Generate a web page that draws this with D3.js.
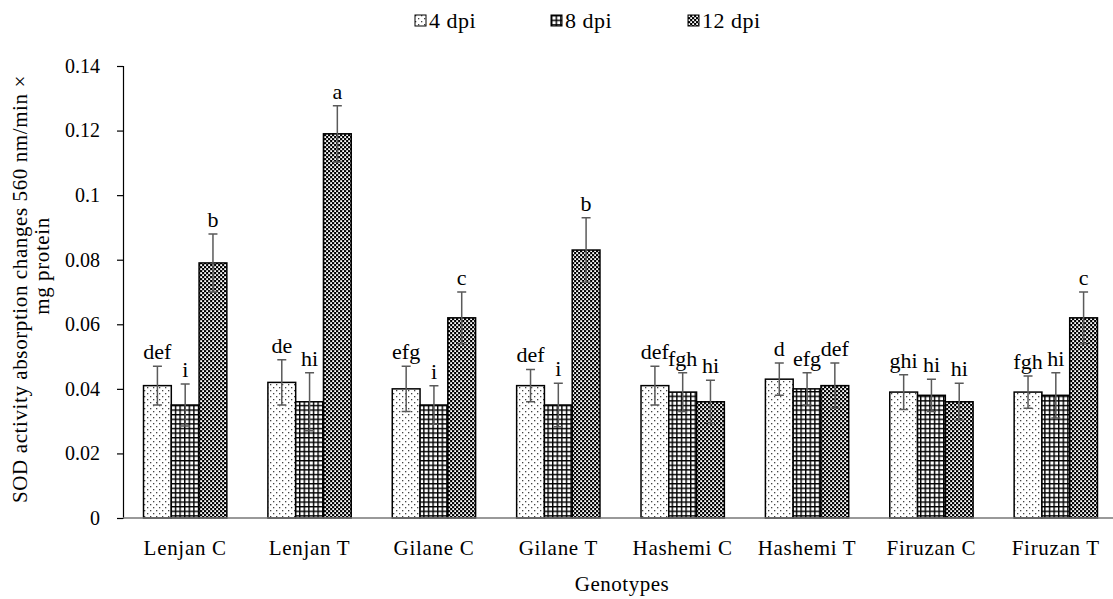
<!DOCTYPE html>
<html>
<head>
<meta charset="utf-8">
<script src="https://cdn.jsdelivr.net/npm/d3@7"></script>
<style>
  html, body { margin: 0; padding: 0; background: #fff; }
  svg { display: block; }
  text { font-family: "Liberation Serif", "Times New Roman", serif; fill: #000; }
</style>
</head>
<body>
<div id="chart"></div>
<script>
const categories = ["Lenjan C", "Lenjan T", "Gilane C", "Gilane T", "Hashemi C", "Hashemi T", "Firuzan C", "Firuzan T"];
const seriesNames = ["4 dpi", "8 dpi", "12 dpi"];
const values4  = [0.041, 0.042, 0.040, 0.041, 0.041, 0.043, 0.039, 0.039];
const values8  = [0.035, 0.036, 0.035, 0.035, 0.039, 0.040, 0.038, 0.038];
const values12 = [0.079, 0.119, 0.062, 0.083, 0.036, 0.041, 0.036, 0.062];
const errors4  = [0.006, 0.007, 0.007, 0.005, 0.006, 0.005, 0.0054, 0.005];
const errors8  = [0.0065, 0.009, 0.006, 0.0067, 0.006, 0.005, 0.005, 0.007];
const errors12 = [0.009, 0.0087, 0.008, 0.010, 0.0067, 0.007, 0.0057, 0.008];
const letters4  = ["def", "de", "efg", "def", "def", "d", "ghi", "fgh"];
const letters8  = ["i", "hi", "i", "i", "fgh", "efg", "hi", "hi"];
const letters12 = ["b", "a", "c", "b", "hi", "def", "hi", "c"];
const yTicks = [0, 0.02, 0.04, 0.06, 0.08, 0.1, 0.12, 0.14];
const yTickLabels = ["0", "0.02", "0.04", "0.06", "0.08", "0.1", "0.12", "0.14"];
const xTitle = "Genotypes";
const yTitleLines = ["SOD activity absorption changes 560 nm/min \u00d7", "mg protein"];

const W = 1113, H = 599;
const mLeft = 123, mRight = 1118, mTop = 66, mBottom = 518;

const svg = d3.select("#chart").append("svg").attr("width", W).attr("height", H);
const defs = svg.append("defs");

// patterns
const p1 = defs.append("pattern").attr("id", "pat4").attr("patternUnits", "userSpaceOnUse")
  .attr("width", 6).attr("height", 6);
p1.append("rect").attr("width", 6).attr("height", 6).attr("fill", "#fff");
p1.append("rect").attr("x", 0).attr("y", 0).attr("width", 1.3).attr("height", 1.3).attr("fill", "#444");
p1.append("rect").attr("x", 3).attr("y", 3).attr("width", 1.3).attr("height", 1.3).attr("fill", "#444");

const p2 = defs.append("pattern").attr("id", "pat8").attr("patternUnits", "userSpaceOnUse")
  .attr("width", 4.6).attr("height", 4.6);
p2.append("rect").attr("width", 4.6).attr("height", 4.6).attr("fill", "#fff");
p2.append("rect").attr("x", 0).attr("y", 0).attr("width", 4.6).attr("height", 1.4).attr("fill", "#000");
p2.append("rect").attr("x", 0).attr("y", 0).attr("width", 1.4).attr("height", 4.6).attr("fill", "#000");

const p3 = defs.append("pattern").attr("id", "pat12").attr("patternUnits", "userSpaceOnUse")
  .attr("width", 4).attr("height", 4);
p3.append("rect").attr("width", 4).attr("height", 4).attr("fill", "#000");
p3.append("rect").attr("x", 0.2).attr("y", 0.2).attr("width", 1.9).attr("height", 1.9).attr("fill", "#fff");
p3.append("rect").attr("x", 2.2).attr("y", 2.2).attr("width", 1.9).attr("height", 1.9).attr("fill", "#fff");

const fills = ["url(#pat4)", "url(#pat8)", "url(#pat12)"];

const x0 = d3.scaleBand().domain(categories).range([mLeft, mRight]).paddingInner(0.33).paddingOuter(0.165);
const x1 = d3.scaleBand().domain(seriesNames).range([0, x0.bandwidth()]).padding(0);
const y = d3.scaleLinear().domain([0, 0.14]).range([mBottom, mTop]);

const valueSets = [values4, values8, values12];
const errorSets = [errors4, errors8, errors12];
const letterSets = [letters4, letters8, letters12];

const rows = [];
categories.forEach((c, i) => {
  seriesNames.forEach((s, j) => {
    rows.push({ cat: c, ser: s, j: j, v: valueSets[j][i], e: errorSets[j][i], l: letterSets[j][i] });
  });
});

// y axis
const yAxis = d3.axisLeft(y).tickValues(yTicks).tickFormat((d, i) => yTickLabels[i]).tickSize(6).tickPadding(17);
const gy = svg.append("g").attr("transform", `translate(${mLeft},0)`).call(yAxis);
gy.select(".domain").attr("stroke", "#000").attr("stroke-width", 1.2);
gy.selectAll(".tick line").attr("stroke", "#000").attr("stroke-width", 1.2);
gy.selectAll(".tick text").style("font-family", "Liberation Serif").style("font-size", "20px").attr("fill", "#000");

// bars
const bars = svg.append("g");
bars.selectAll("rect").data(rows).join("rect")
  .attr("x", d => x0(d.cat) + x1(d.ser))
  .attr("y", d => y(d.v))
  .attr("width", x1.bandwidth())
  .attr("height", d => y(0) - y(d.v))
  .attr("fill", d => fills[d.j])
  .attr("stroke", "#000")
  .attr("stroke-width", 1.5);

// x axis
const xAxis = d3.axisBottom(x0).tickSize(0).tickPadding(22);
const gx = svg.append("g").attr("transform", `translate(0,${mBottom})`).call(xAxis);
gx.select(".domain").attr("d", `M${mLeft},0H${W}`).attr("stroke", "#777").attr("stroke-width", 1.5);
gx.selectAll(".tick text").style("font-family", "Liberation Serif").style("font-size", "21px")
  .style("letter-spacing", "0.7px").attr("fill", "#000");

// error bars
const eb = svg.append("g").attr("stroke", "#5a5a5a").attr("stroke-width", 1.5).attr("fill", "none");
const cx = d => x0(d.cat) + x1(d.ser) + x1.bandwidth() / 2;
eb.selectAll("path").data(rows).join("path")
  .attr("d", d => {
    const c = cx(d), yt = y(d.v + d.e), yb = y(d.v - d.e);
    return `M${c},${yt}V${yb}M${c - 4.5},${yt}H${c + 4.5}M${c - 4.5},${yb}H${c + 4.5}`;
  });

// letters
svg.append("g").selectAll("text").data(rows).join("text")
  .attr("x", d => cx(d))
  .attr("y", d => y(d.v + d.e) - 7)
  .attr("text-anchor", "middle")
  .style("font-size", "22px")
  .text(d => d.l);

// axis titles
svg.append("text").attr("x", (mLeft + W) / 2 + 4).attr("y", 591).attr("text-anchor", "middle")
  .style("font-size", "21px").style("letter-spacing", "0.5px").text(xTitle);

const ytl = svg.append("g").attr("transform", "translate(0,0)");
ytl.append("text").attr("transform", "translate(27,289) rotate(-90)").attr("text-anchor", "middle")
  .style("font-size", "21px").style("letter-spacing", "0.6px").text(yTitleLines[0]);
ytl.append("text").attr("transform", "translate(49,266) rotate(-90)").attr("text-anchor", "middle")
  .style("font-size", "21px").style("letter-spacing", "0.6px").text(yTitleLines[1]);

// legend
const legendX = [415, 551, 688];
const lg = svg.append("g");
seriesNames.forEach((s, j) => {
  const g = lg.append("g").attr("transform", `translate(${legendX[j]},15)`);
  g.append("rect").attr("x", 0).attr("y", 0).attr("width", 11).attr("height", 11)
    .attr("fill", fills[j]).attr("stroke", "#000").attr("stroke-width", 1);
  g.append("text").attr("x", 14).attr("y", 13).style("font-size", "22px").style("letter-spacing", "0.5px").text(s);
});
</script>
</body>
</html>
